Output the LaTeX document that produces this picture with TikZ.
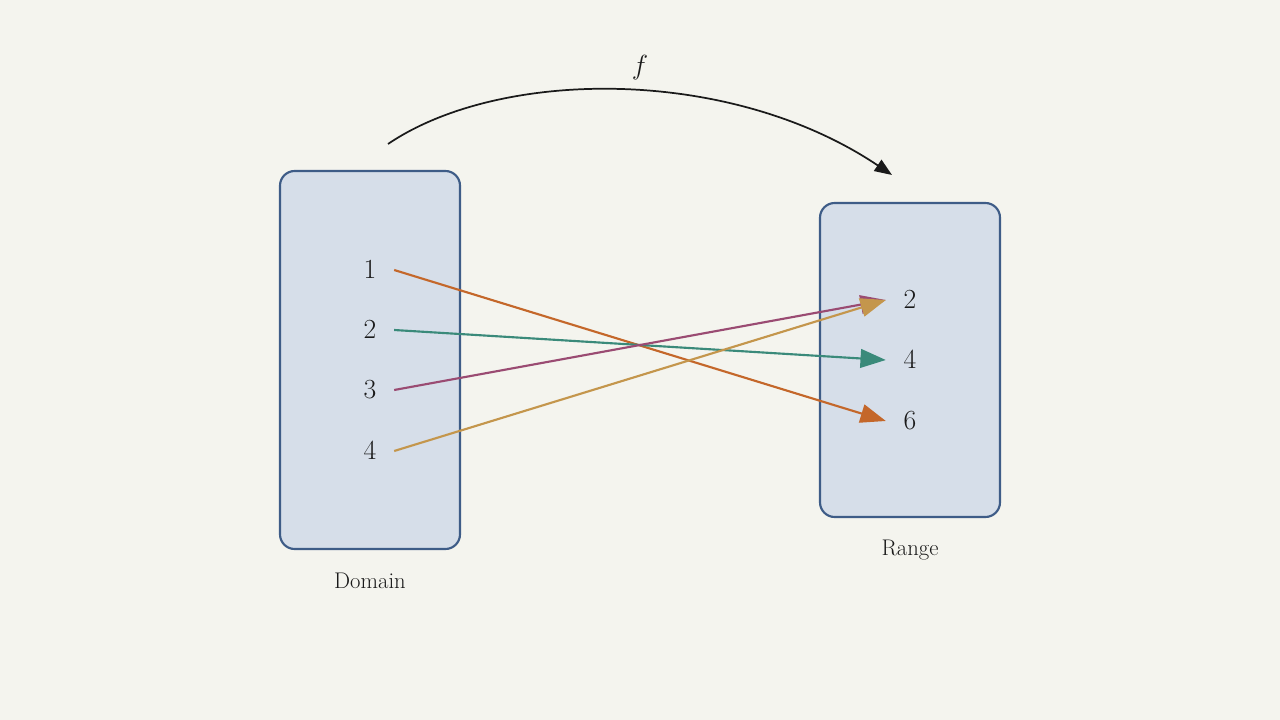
\documentclass[tikz,border=0pt]{standalone}
\usetikzlibrary{arrows.meta}
\definecolor{bgcol}{HTML}{F4F4EE}
\definecolor{boxfill}{HTML}{D6DEE9}
\definecolor{boxline}{HTML}{3E5C87}
\definecolor{orangeA}{HTML}{C4672A}
\definecolor{tealA}{HTML}{3A8A7A}
\definecolor{purpleA}{HTML}{9A4B72}
\definecolor{goldA}{HTML}{C4964C}
\definecolor{inkA}{HTML}{1A1A1A}
\tikzset{every picture/.style={line width=0.75pt}}
\tikzset{
  setbox/.style={draw=boxline, fill=boxfill, line width=1.6pt, rounded corners=11pt},
  elem/.style={inner xsep=13pt, inner ysep=2pt, font=\fontsize{20}{24}\selectfont, text=inkA},
  caption/.style={font=\fontsize{17}{20}\selectfont, text=inkA},
  maparrow/.style={line width=1.6pt, -{Triangle[length=19pt,width=14pt]}}
}

\begin{document}
\begin{tikzpicture}[x=0.75pt,y=0.75pt,yscale=-1,xscale=1]
\fill[bgcol] (0,0) rectangle (1280,720);
\useasboundingbox (0,0) rectangle (1280,720);

% Domain and range boxes
\draw[setbox] (280,171) rectangle (460,549);
\draw[setbox] (820,203) rectangle (1000,517);

% Elements
\node[elem] (d1) at (370,270) {$1$};
\node[elem] (d2) at (370,330) {$2$};
\node[elem] (d3) at (370,390) {$3$};
\node[elem] (d4) at (370,451) {$4$};
\node[elem] (r2) at (910,300) {$2$};
\node[elem] (r4) at (910,360) {$4$};
\node[elem] (r6) at (910,421) {$6$};

% Captions
\node[caption] (dom) at (370,581) {Domain};
\node[caption] (rng) at (910,550) {Range};

% Mapping arrows
\draw[maparrow, orangeA] (d1.east) -- (r6.west);
\draw[maparrow, tealA] (d2.east) -- (r4.west);
\draw[maparrow, purpleA] (d3.east) -- (r2.west);
\draw[maparrow, goldA] (d4.east) -- (r2.west);

% Function arc
\coordinate (fs) at (388,144);
\coordinate (fe) at (892,175);
\draw[inkA, line width=1.3pt, -{Triangle[length=13pt,width=10pt]}] (fs) .. controls (500,68) and (730,66) .. (fe);
\node[font=\fontsize{20}{24}\selectfont, text=inkA] (flab) at (640,68) {$f$};
\end{tikzpicture}
\end{document}
